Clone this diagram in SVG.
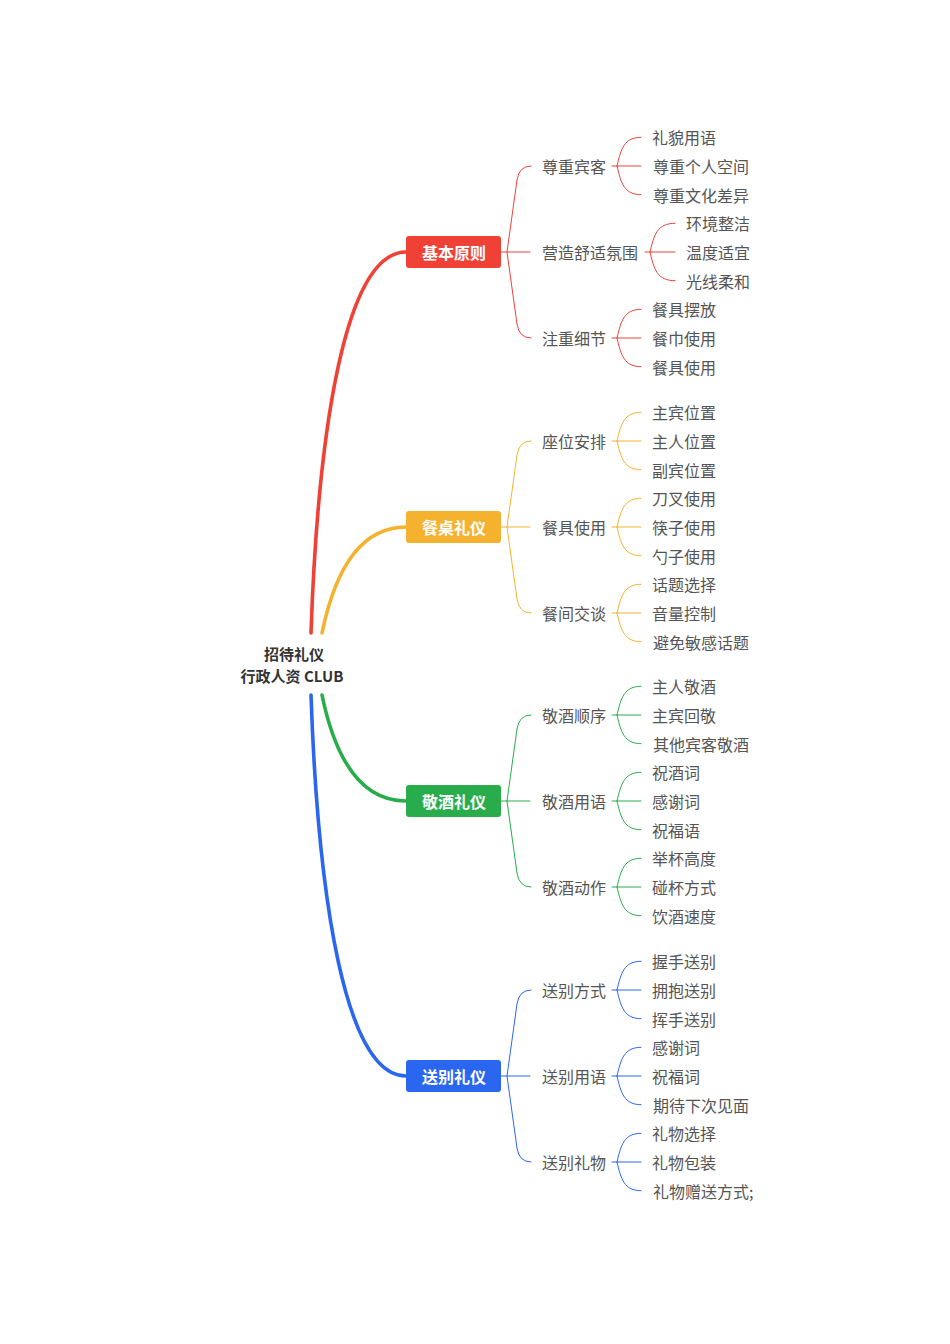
<svg xmlns="http://www.w3.org/2000/svg" width="950" height="1344" viewBox="0 0 950 1344">
<style>
text{font-family:"Noto Sans CJK SC","Liberation Sans",sans-serif;font-size:16px;dominant-baseline:central}
.root{font-weight:bold;fill:#333;text-anchor:middle;font-size:15px}
.main{font-weight:bold;fill:#fff;text-anchor:middle}
.t{fill:#555}
.c{fill:none;stroke-linecap:round}
.thick{stroke-width:3.6}
.thin{stroke-width:1}
.r{stroke:#EF4136}.y{stroke:#F5B22F}.g{stroke:#29AD4C}.b{stroke:#2A66F0}
</style>
<rect width="950" height="1344" fill="#fff"/>
<g id="connectors">
<path class="c thick r" d="M311,633 C318,430 345,252 406,252"/>
<path class="c thick y" d="M322,633 C335,570 360,527 406,527"/>
<path class="c thick g" d="M322,695 C335,758 360,801 406,801"/>
<path class="c thick b" d="M311,695 C318,898 345,1076 406,1076"/>
<g class="c thin r">
<path d="M501,252 H530 M507,252 L517,180 Q519,166 531,166 M507,252 L517,324 Q519,338 531,338"/>
<path d="M612,166 H641 M617,166 C621,149 624,137.3 641,137.3 M617,166 C621,183 624,194.7 641,194.7"/>
<path d="M645,252 H675 M650,252 C654,235 657,223.3 675,223.3 M650,252 C654,269 657,280.7 675,280.7"/>
<path d="M612,338 H641 M617,338 C621,321 624,309.3 641,309.3 M617,338 C621,355 624,366.7 641,366.7"/>
</g>
<g class="c thin y">
<path d="M501,527 H530 M507,527 L517,455 Q519,441 531,441 M507,527 L517,599 Q519,613 531,613"/>
<path d="M612,441 H641 M617,441 C621,424 624,412.3 641,412.3 M617,441 C621,458 624,469.7 641,469.7"/>
<path d="M612,527 H641 M617,527 C621,510 624,498.3 641,498.3 M617,527 C621,544 624,555.7 641,555.7"/>
<path d="M612,613 H641 M617,613 C621,596 624,584.3 641,584.3 M617,613 C621,630 624,641.7 641,641.7"/>
</g>
<g class="c thin g">
<path d="M501,801 H530 M507,801 L517,729 Q519,715 531,715 M507,801 L517,873 Q519,887 531,887"/>
<path d="M612,715 H641 M617,715 C621,698 624,686.3 641,686.3 M617,715 C621,732 624,743.7 641,743.7"/>
<path d="M612,801 H641 M617,801 C621,784 624,772.3 641,772.3 M617,801 C621,818 624,829.7 641,829.7"/>
<path d="M612,887 H641 M617,887 C621,870 624,858.3 641,858.3 M617,887 C621,904 624,915.7 641,915.7"/>
</g>
<g class="c thin b">
<path d="M501,1076 H530 M507,1076 L517,1004 Q519,990 531,990 M507,1076 L517,1148 Q519,1162 531,1162"/>
<path d="M612,990 H641 M617,990 C621,973 624,961.3 641,961.3 M617,990 C621,1007 624,1018.7 641,1018.7"/>
<path d="M612,1076 H641 M617,1076 C621,1059 624,1047.3 641,1047.3 M617,1076 C621,1093 624,1104.7 641,1104.7"/>
<path d="M612,1162 H641 M617,1162 C621,1145 624,1133.3 641,1133.3 M617,1162 C621,1179 624,1190.7 641,1190.7"/>
</g>
</g>
<g id="root">
<text class="root" x="294" y="653.5">招待礼仪</text>
<text class="root" x="292" y="675">行政人资 CLUB</text>
</g>
<g id="n1">
<rect x="406" y="236" width="95" height="32" rx="3" fill="#EF4136"/>
<text class="main" x="454" y="251.5">基本原则</text>
</g>
<g id="n1-1"><text class="t" x="542" y="166">尊重宾客</text></g>
<g id="n1-1-1"><text class="t" x="652" y="137.3">礼貌用语</text></g>
<g id="n1-1-2"><text class="t" x="653" y="166">尊重个人空间</text></g>
<g id="n1-1-3"><text class="t" x="653" y="194.7">尊重文化差异</text></g>
<g id="n1-2"><text class="t" x="542" y="252">营造舒适氛围</text></g>
<g id="n1-2-1"><text class="t" x="686" y="223.3">环境整洁</text></g>
<g id="n1-2-2"><text class="t" x="686" y="252">温度适宜</text></g>
<g id="n1-2-3"><text class="t" x="686" y="280.7">光线柔和</text></g>
<g id="n1-3"><text class="t" x="542" y="338">注重细节</text></g>
<g id="n1-3-1"><text class="t" x="652" y="309.3">餐具摆放</text></g>
<g id="n1-3-2"><text class="t" x="652" y="338">餐巾使用</text></g>
<g id="n1-3-3"><text class="t" x="652" y="366.7">餐具使用</text></g>

<g id="n2">
<rect x="406" y="511" width="95" height="32" rx="3" fill="#F5B22F"/>
<text class="main" x="454" y="526.5">餐桌礼仪</text>
</g>
<g id="n2-1"><text class="t" x="542" y="441">座位安排</text></g>
<g id="n2-1-1"><text class="t" x="652" y="412.3">主宾位置</text></g>
<g id="n2-1-2"><text class="t" x="652" y="441">主人位置</text></g>
<g id="n2-1-3"><text class="t" x="652" y="469.7">副宾位置</text></g>
<g id="n2-2"><text class="t" x="542" y="527">餐具使用</text></g>
<g id="n2-2-1"><text class="t" x="652" y="498.3">刀叉使用</text></g>
<g id="n2-2-2"><text class="t" x="652" y="527">筷子使用</text></g>
<g id="n2-2-3"><text class="t" x="652" y="555.7">勺子使用</text></g>
<g id="n2-3"><text class="t" x="542" y="613">餐间交谈</text></g>
<g id="n2-3-1"><text class="t" x="652" y="584.3">话题选择</text></g>
<g id="n2-3-2"><text class="t" x="652" y="613">音量控制</text></g>
<g id="n2-3-3"><text class="t" x="653" y="641.7">避免敏感话题</text></g>

<g id="n3">
<rect x="406" y="785" width="95" height="32" rx="3" fill="#29AD4C"/>
<text class="main" x="454" y="800.5">敬酒礼仪</text>
</g>
<g id="n3-1"><text class="t" x="542" y="715">敬酒顺序</text></g>
<g id="n3-1-1"><text class="t" x="652" y="686.3">主人敬酒</text></g>
<g id="n3-1-2"><text class="t" x="652" y="715">主宾回敬</text></g>
<g id="n3-1-3"><text class="t" x="653" y="743.7">其他宾客敬酒</text></g>
<g id="n3-2"><text class="t" x="542" y="801">敬酒用语</text></g>
<g id="n3-2-1"><text class="t" x="652" y="772.3">祝酒词</text></g>
<g id="n3-2-2"><text class="t" x="652" y="801">感谢词</text></g>
<g id="n3-2-3"><text class="t" x="652" y="829.7">祝福语</text></g>
<g id="n3-3"><text class="t" x="542" y="887">敬酒动作</text></g>
<g id="n3-3-1"><text class="t" x="652" y="858.3">举杯高度</text></g>
<g id="n3-3-2"><text class="t" x="652" y="887">碰杯方式</text></g>
<g id="n3-3-3"><text class="t" x="652" y="915.7">饮酒速度</text></g>

<g id="n4">
<rect x="406" y="1060" width="95" height="32" rx="3" fill="#2A66F0"/>
<text class="main" x="454" y="1075.5">送别礼仪</text>
</g>
<g id="n4-1"><text class="t" x="542" y="990">送别方式</text></g>
<g id="n4-1-1"><text class="t" x="652" y="961.3">握手送别</text></g>
<g id="n4-1-2"><text class="t" x="652" y="990">拥抱送别</text></g>
<g id="n4-1-3"><text class="t" x="652" y="1018.7">挥手送别</text></g>
<g id="n4-2"><text class="t" x="542" y="1076">送别用语</text></g>
<g id="n4-2-1"><text class="t" x="652" y="1047.3">感谢词</text></g>
<g id="n4-2-2"><text class="t" x="652" y="1076">祝福词</text></g>
<g id="n4-2-3"><text class="t" x="653" y="1104.7">期待下次见面</text></g>
<g id="n4-3"><text class="t" x="542" y="1162">送别礼物</text></g>
<g id="n4-3-1"><text class="t" x="652" y="1133.3">礼物选择</text></g>
<g id="n4-3-2"><text class="t" x="652" y="1162">礼物包装</text></g>
<g id="n4-3-3"><text class="t" x="653" y="1190.7">礼物赠送方式;</text></g>
</svg>
